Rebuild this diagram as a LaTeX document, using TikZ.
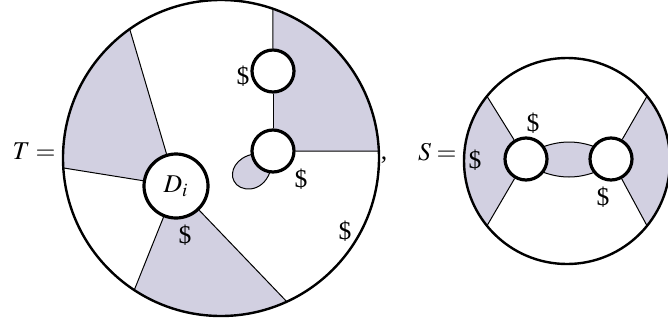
\documentclass[tikz,border=0pt]{standalone}
\usepackage{mathptmx}
\usepackage{fontspec}
\setmainfont{Liberation Serif}
\usetikzlibrary{calc}
\definecolor{shade}{RGB}{210,208,225}
\tikzset{
  hole/.style={circle, draw, line width=1.6pt, fill=white, minimum size=21pt, inner sep=0pt},
  bighole/.style={hole, minimum size=32pt},
  cut/.style={line width=0.5pt},
  rim/.style={line width=1.2pt},
  region/.style={fill=shade},
  lab/.style={inner sep=0pt, font=\fontsize{12.8}{15}\selectfont}
}
\begin{document}
\begin{tikzpicture}[x=0.5pt,y=-0.5pt]
\useasboundingbox (0,0) rectangle (668,322);
% ---------- T ----------
\coordinate (C) at (221,158);
\coordinate (dic) at (176,186);
\coordinate (c1c) at (273,71);
\coordinate (c2c) at (273,151);
\coordinate (ptop) at ($(C)+(-70.8:158)$);
\coordinate (pright) at ($(C)+(-2.5:158)$);
\coordinate (pa) at ($(C)+(-125.3:158)$);
\coordinate (pb) at ($(C)+(176.4:158)$);
\coordinate (pc) at ($(C)+(123.3:158)$);
\coordinate (pd) at ($(C)+(65.4:158)$);
\begin{scope}
  \clip (C) circle[radius=158];
  \fill[region] (273,-10) rectangle (400,151);
  \fill[region] (dic) -- ($(dic)!3!(pa)$) -- ($(dic)!3!(pb)$) -- cycle;
  \fill[region] (dic) -- ($(dic)!3!(pc)$) -- ($(dic)!3!(pd)$) -- cycle;
\end{scope}
\filldraw[region, draw=black, cut] (254,154) .. controls (236,157) and (229,172) .. (234,181)
  .. controls (239,192) and (262,194) .. (270,172);
\node[bighole, lab, minimum size=32pt] (Di) at (dic) {$D_i$};
\node[hole] (c1) at (c1c) {};
\node[hole] (c2) at (c2c) {};
\draw[cut] (ptop) -- (c1);
\draw[cut] (c1) -- (c2);
\draw[cut] (c2) -- (pright);
\draw[cut] (Di) -- (pa);
\draw[cut] (Di) -- (pb);
\draw[cut] (Di) -- (pc);
\draw[cut] (Di) -- (pd);
\draw[rim] (C) circle[radius=158];
\node[lab, anchor=base east] (tlab) at (56,159) {$T=$};
\node[lab, anchor=base] (comma) at (384,159) {,};
\node[lab] (d1) at (243,76) {\$};
\node[lab] (d2) at (301,179) {\$};
\node[lab] (d3) at (185,235) {\$};
\node[lab] (d4) at (345,231) {\$};
% ---------- S ----------
\coordinate (CS) at (567,161);
\coordinate (lc) at (526,159);
\coordinate (rc) at (611,159);
\coordinate (sa) at ($(CS)+(-141:103)$);
\coordinate (sb) at ($(CS)+(141:103)$);
\coordinate (sc) at ($(CS)+(-39:103)$);
\coordinate (sd) at ($(CS)+(39:103)$);
\begin{scope}
  \clip (CS) circle[radius=103];
  \fill[region] (lc) -- ($(lc)!3!(sa)$) -- ($(lc)!3!(sb)$) -- cycle;
  \fill[region] (rc) -- ($(rc)!3!(sc)$) -- ($(rc)!3!(sd)$) -- cycle;
\end{scope}
\filldraw[region, draw=black, cut] (540,148) .. controls (560,140) and (578,140) .. (598,148)
  -- (598,171) .. controls (578,179) and (560,179) .. (540,171) -- cycle;
\node[hole] (L) at (lc) {};
\node[hole] (R) at (rc) {};
\draw[cut] (L) -- (sa);
\draw[cut] (L) -- (sb);
\draw[cut] (R) -- (sc);
\draw[cut] (R) -- (sd);
\draw[rim] (CS) circle[radius=103];
\node[lab, anchor=base east] (slab) at (457,160) {$S=$};
\node[lab] (e1) at (533,123) {\$};
\node[lab] (e2) at (475,160) {\$};
\node[lab] (e3) at (603,197) {\$};
\end{tikzpicture}
\end{document}
